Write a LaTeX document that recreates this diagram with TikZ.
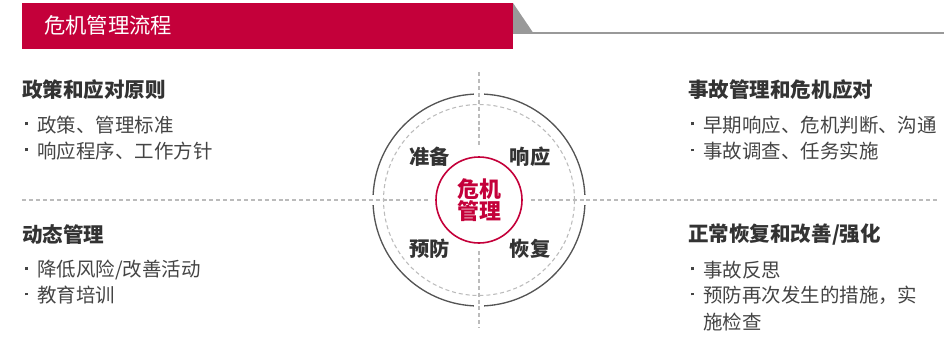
\documentclass[tikz,border=0pt]{standalone}
\usepackage{fontspec}
\setmainfont{Noto Sans CJK SC}
\definecolor{brandred}{HTML}{C4003A}
\definecolor{hdgray}{HTML}{333333}
\definecolor{txgray}{HTML}{444444}
\definecolor{ringgray}{HTML}{555555}
\definecolor{dashgray}{HTML}{BBBBBB}
\definecolor{bargray}{HTML}{999999}
\newcommand\bulx{\makebox[10.5pt][l]{\hspace{1.5pt}\raisebox{0.36em}{\rule{2.2pt}{2.2pt}}}}
\begin{document}
\begin{tikzpicture}[x=0.75pt,y=-0.75pt,
  hd/.style={anchor=west,inner sep=0,text=hdgray,font=\bfseries\fontsize{15.4}{18}\selectfont},
  bl/.style={anchor=west,inner sep=0,text=txgray,font=\fontsize{14.6}{20.25}\selectfont},
  lab/.style={inner sep=0,text=hdgray,font=\bfseries\fontsize{15.2}{18}\selectfont},
  divline/.style={draw=dashgray,line width=0.8pt,dash pattern=on 3pt off 2.2pt},
  ring/.style={draw=ringgray,line width=1pt}]
\useasboundingbox (0,0) rectangle (944,340);
% title bar
\fill[brandred] (22,3) rectangle (513,49);
\node[anchor=west,inner sep=0,text=white,font=\fontsize{16}{18}\selectfont] (title) at (44,25.5) {危机管理流程};
\fill[bargray] (513,3) -- (513,32.5) -- (533,32.5) -- cycle;
\draw[bargray,line width=1.5pt] (513,32.5) -- (944,32.5);
% divider lines
\coordinate (c) at (479,200);
\coordinate (hl1) at (22,200);
\coordinate (hl2) at (428,200);
\coordinate (hr1) at (531,200);
\coordinate (hr2) at (938,200);
\coordinate (vt1) at (479,72);
\coordinate (vt2) at (479,148);
\coordinate (vb1) at (479,251);
\coordinate (vb2) at (479,328);
\draw[divline] (hl1) -- (hl2);
\draw[divline] (hr1) -- (hr2);
\draw[divline] (vt1) -- (vt2);
\draw[divline] (vb1) -- (vb2);
% rings
\draw[divline] (c) circle[radius=95.5];
\foreach \a in {0,90,180,270}{
  \draw[ring] ([shift={(\a+2.8:106)}]c) arc[start angle=\a+2.8,end angle=\a+87.2,radius=106];
}
\node[circle,draw=brandred,line width=1.2pt,fill=white,minimum size=86pt*0.75,inner sep=0,
      text=brandred,align=center,font=\bfseries\fontsize{16.4}{16.5}\selectfont] (core) at (c) {危机\\管理};
\node[lab] (prep) at (429.5,157) {准备};
\node[lab] (resp) at (530,157) {响应};
\node[lab] (prev) at (429.5,248.5) {预防};
\node[lab] (reco) at (530,248.5) {恢复};
% left texts
\node[hd] (h1) at (22,90) {政策和应对原则};
\node[bl] (l1a) at (23,125) {\bulx 政策、管理标准};
\node[bl] (l1b) at (23,151) {\bulx 响应程序、工作方针};
\node[hd] (h2) at (22,235) {动态管理};
\node[bl] (l2a) at (23,270) {\bulx 降低风险/改善活动};
\node[bl] (l2b) at (23,295) {\bulx 教育培训};
% right texts
\node[hd] (h3) at (688,90) {事故管理和危机应对};
\node[bl] (r1a) at (689,125) {\bulx 早期响应、危机判断、沟通};
\node[bl] (r1b) at (689,151) {\bulx 事故调查、任务实施};
\node[hd] (h4) at (688,235) {正常恢复和改善/强化};
\node[bl] (r2a) at (689,270) {\bulx 事故反思};
\node[bl,align=left] (r2b) at (689,308.5) {\bulx 预防再次发生的措施，实\\\hspace{10.5pt}施检查};
\end{tikzpicture}
\end{document}
